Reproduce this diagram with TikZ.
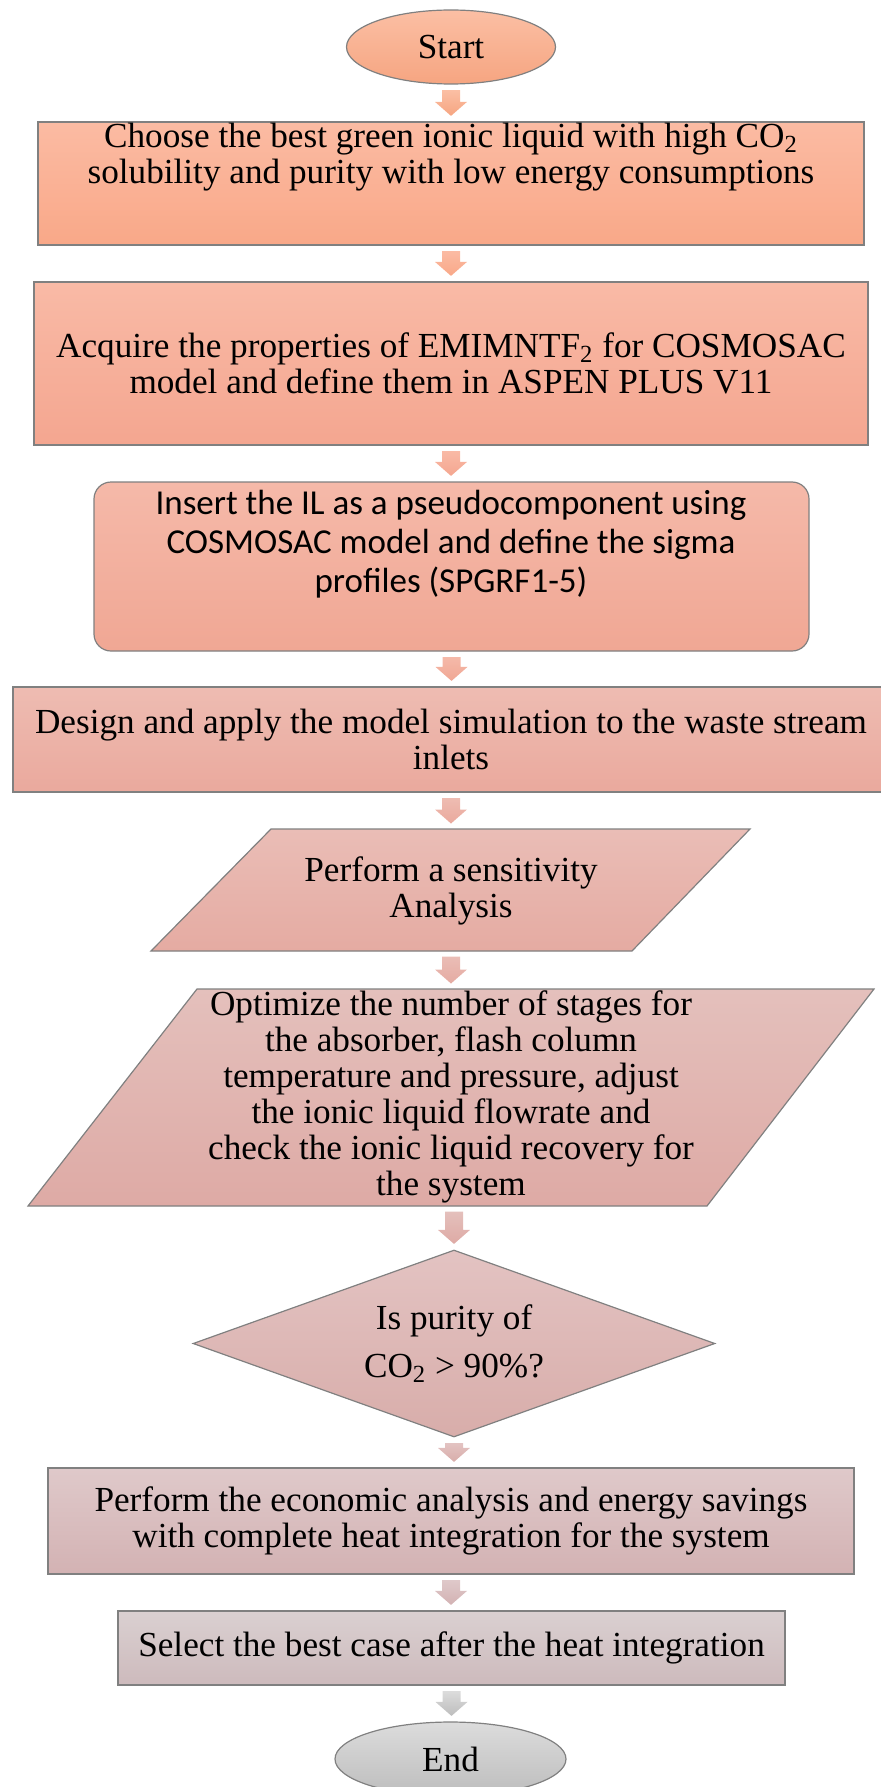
\documentclass[tikz,border=0pt]{standalone}
\usepackage{fontspec}
\setmainfont{Liberation Serif}
\newfontfamily\carlito{Carlito}
\usetikzlibrary{shapes.geometric,calc}
\definecolor{sT}{HTML}{FBBFA4}\definecolor{sB}{HTML}{F6A581}
\definecolor{bAT}{HTML}{FBBBA3}\definecolor{bAB}{HTML}{F9A888}
\definecolor{bBT}{HTML}{F9BAA6}\definecolor{bBB}{HTML}{F4A690}
\definecolor{bCT}{HTML}{F5B9A9}\definecolor{bCB}{HTML}{F0A794}
\definecolor{bDT}{HTML}{EEBCB2}\definecolor{bDB}{HTML}{EAA99D}
\definecolor{pAT}{HTML}{EABDB6}\definecolor{pAB}{HTML}{E5ABA2}
\definecolor{pBT}{HTML}{E4C0BC}\definecolor{pBB}{HTML}{DEAAA5}
\definecolor{dT}{HTML}{E3C3C2}\definecolor{dB}{HTML}{D8ADAA}
\definecolor{bET}{HTML}{DFC9CA}\definecolor{bEB}{HTML}{D3B2B3}
\definecolor{bFT}{HTML}{DAD0D1}\definecolor{bFB}{HTML}{CDBABC}
\definecolor{eT}{HTML}{DCDCDC}\definecolor{eB}{HTML}{BDBDBD}
\definecolor{edge}{HTML}{808080}
\tikzset{
  base/.style={draw=edge, line width=0.6pt, inner sep=0pt, align=center,
    font=\fontsize{17.6}{18}\selectfont},
  txt/.style={inner sep=0pt, align=center, font=\fontsize{17.6}{18}\selectfont},
  procbox/.style={base, rectangle},
  term/.style={base, ellipse},
  paral/.style={draw=edge, line width=0.6pt},
}
\newcommand\flowarrow[4]{%
  \path[top color=#3, bottom color=#4] let \p1=#1, \p2=#2 in
    (\x1-4.5pt,\y1-2.75pt) -- (\x1+4.5pt,\y1-2.75pt) -- (\x1+4.5pt,\y2+9.75pt)
    -- (\x1+8pt,\y2+9.75pt) -- (\x1,\y2+2.75pt) -- (\x1-8pt,\y2+9.75pt)
    -- (\x1-4.5pt,\y2+9.75pt) -- cycle;}
\begin{document}
\begin{tikzpicture}[x=0.5pt,y=-0.5pt]
\useasboundingbox (0,0) rectangle (881,1787);
% Start
\node[term, top color=sT, bottom color=sB, minimum width=104.5pt, minimum height=37pt] (start) at (451,47) {Start};
% Box 1
\node[procbox, top color=bAT, bottom color=bAB, minimum width=413pt, minimum height=61.5pt] (b1) at (451,183.5) {};
\node[txt] (t1) at (451,157) {Choose the best green ionic liquid with high CO\textsubscript{2}\\solubility and purity with low energy consumptions};
% Box 2
\node[procbox, top color=bBT, bottom color=bBB, minimum width=417pt, minimum height=81.5pt] (b2) at (451,363.5)
  {Acquire the properties of EMIMNTF\textsubscript{2} for COSMOSAC\\model and define them in ASPEN PLUS V11};
% Box 3
\node[procbox, rounded corners=8.5pt, top color=bCT, bottom color=bCB, minimum width=357.5pt, minimum height=84.5pt] (b3) at (451.5,566.5) {};
\node[txt, font=\carlito\fontsize{17.5}{19.5}\selectfont] (t3) at (451,544) {Insert the IL as a pseudocomponent using\\COSMOSAC model and define the sigma\\profiles (SPGRF1-5)};
% Box 4
\node[procbox, top color=bDT, bottom color=bDB, minimum width=438pt, minimum height=52.5pt] (b4) at (451,739.5)
  {Design and apply the model simulation to the waste stream\\inlets};
% Parallelogram 1
\path[paral, top color=pAT, bottom color=pAB] (271,829) -- (750,829) -- (632,951) -- (151,951) -- cycle;
\coordinate (p1top) at (451,829);
\coordinate (p1bot) at (451,951);
\node[txt] (p1) at (451,891) {Perform a sensitivity\\Analysis};
% Parallelogram 2
\path[paral, top color=pBT, bottom color=pBB] (197,989) -- (874,989) -- (707,1206) -- (28,1206) -- cycle;
\coordinate (p2top) at (451,989);
\coordinate (p2bot) at (454,1206);
\node[txt] (p2) at (451,1097) {Optimize the number of stages for\\the absorber, flash column\\temperature and pressure, adjust\\the ionic liquid flowrate and\\check the ionic liquid recovery for\\the system};
% Decision
\node[base, diamond, aspect=2.79, top color=dT, bottom color=dB, minimum width=261pt, minimum height=93.5pt,
  font=\fontsize{17.6}{24}\selectfont] (dec) at (454,1343.5) {Is purity of\\CO\textsubscript{2} > 90\%?};
% Box 5
\node[procbox, top color=bET, bottom color=bEB, minimum width=403pt, minimum height=53pt] (b5) at (451,1521)
  {Perform the economic analysis and energy savings\\with complete heat integration for the system};
% Box 6
\node[procbox, top color=bFT, bottom color=bFB, minimum width=333.5pt, minimum height=37pt] (b6) at (451.5,1648)
  {Select the best case after the heat integration};
% End
\node[term, top color=eT, bottom color=eB, minimum width=115.5pt, minimum height=37pt] (stop) at (450.5,1759) {End};
% Arrows
\flowarrow{(start.south)}{(b1.north)}{sT}{sB}
\flowarrow{(b1.south)}{(b2.north)}{bAT}{bAB}
\flowarrow{(b2.south)}{(b3.north)}{bBT}{bBB}
\flowarrow{(b3.south)}{(b4.north)}{bCT}{bCB}
\flowarrow{(b4.south)}{(p1top)}{bDT}{bDB}
\flowarrow{(p1bot)}{(p2top)}{pAT}{pAB}
\flowarrow{(p2bot)}{(dec.north)}{pBT}{pBB}
\flowarrow{(dec.south)}{(b5.north)}{dT}{dB}
\flowarrow{(b5.south)}{(b6.north)}{bET}{bEB}
\flowarrow{(b6.south)}{(stop.north)}{eT}{eB}
\end{tikzpicture}
\end{document}
